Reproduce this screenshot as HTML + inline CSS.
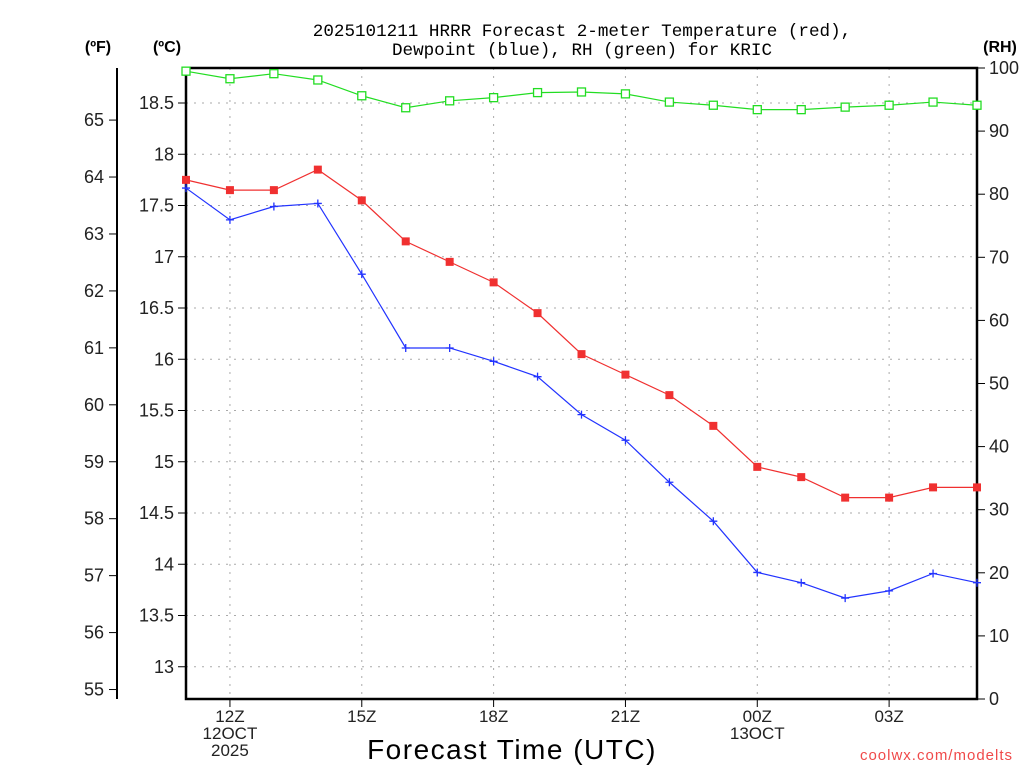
<!DOCTYPE html>
<html><head><meta charset="utf-8"><style>
html,body{margin:0;padding:0;background:#fff;}
svg{display:block;font-family:"Liberation Sans","DejaVu Sans",sans-serif;}
</style></head><body>
<svg id="chart" width="1024" height="768" viewBox="0 0 1024 768" xmlns="http://www.w3.org/2000/svg">
<text x="582" y="36" font-size="17.6" font-family="Liberation Mono, monospace" text-anchor="middle" fill="#000">2025101211 HRRR Forecast 2-meter Temperature (red),</text>
<text x="582" y="55" font-size="17.6" font-family="Liberation Mono, monospace" text-anchor="middle" fill="#000">Dewpoint (blue), RH (green) for KRIC</text>
<text x="98" y="52" font-size="16" font-weight="bold" text-anchor="middle">(ºF)</text>
<text x="167" y="52" font-size="16" font-weight="bold" text-anchor="middle">(ºC)</text>
<text x="1000" y="52" font-size="16" font-weight="bold" text-anchor="middle">(RH)</text>
<text x="512" y="759" font-size="28" text-anchor="middle" letter-spacing="1.5">Forecast Time (UTC)</text>
<text x="1013" y="760" font-size="15" text-anchor="end" fill="#f04a4a" letter-spacing="1">coolwx.com/modelts</text>
<g id="grid"></g><g id="axes"></g><g id="series"></g>
</svg>
<script>
const hours=[11,12,13,14,15,16,17,18,19,20,21,22,23,0,1,2,3,4,5];
const tempC=[17.75,17.65,17.65,17.85,17.55,17.15,16.95,16.75,16.45,16.05,15.85,15.65,15.35,14.95,14.85,14.65,14.65,14.75,14.75];
const dewC=[17.67,17.36,17.49,17.52,16.83,16.11,16.11,15.98,15.83,15.46,15.21,14.80,14.42,13.92,13.82,13.67,13.74,13.91,13.82];
const rh=[99.5,98.3,99.1,98.1,95.6,93.7,94.8,95.3,96.1,96.2,95.9,94.6,94.1,93.4,93.4,93.8,94.1,94.6,94.1];
const cTicks=[13,13.5,14,14.5,15,15.5,16,16.5,17,17.5,18,18.5];
const fTicks=[55,56,57,58,59,60,61,62,63,64,65];
const rhTicks=[0,10,20,30,40,50,60,70,80,90,100];
const xTickIdx=[1,4,7,10,13,16];
const xTickLabels=[["12Z","12OCT","2025"],["15Z"],["18Z"],["21Z"],["00Z","13OCT"],["03Z"]];
const L=186,R=977,T=68,B=699;
const NS="http://www.w3.org/2000/svg";
const xs=i=>L+(R-L)*i/(hours.length-1);
const yC=c=>103+(18.5-c)*102.5;
const yF=f=>yC((f-32)*5/9);
const yRH=v=>B-(B-T)*v/100;
function mk(parent,tag,attrs){const e=document.createElementNS(NS,tag);for(const k in attrs)e.setAttribute(k,attrs[k]);document.getElementById(parent).appendChild(e);return e;}
cTicks.forEach(c=>{const e=mk('grid','line',{x1:L,x2:R,y1:yC(c),y2:yC(c),stroke:'#aaa','stroke-dasharray':'2,6'});

});
xTickIdx.forEach(i=>{const e=mk('grid','line',{x1:xs(i),x2:xs(i),y1:T,y2:B,stroke:'#aaa','stroke-dasharray':'2,6'});

});
const fr=mk('axes','rect',{x:L,y:T,width:R-L,height:B-T,fill:'none',stroke:'#000','stroke-width':2.5});


const fl=mk('axes','line',{x1:117,x2:117,y1:T,y2:B,stroke:'#000','stroke-width':2});


cTicks.forEach(c=>{mk('axes','line',{x1:L-8,x2:L,y1:yC(c),y2:yC(c),stroke:'#000'});
const t=mk('axes','text',{x:L-12,y:yC(c)+6,'font-size':18,'text-anchor':'end',fill:'#222'});t.textContent=c;

});
fTicks.forEach(f=>{mk('axes','line',{x1:109,x2:117,y1:yF(f),y2:yF(f),stroke:'#000'});
const t=mk('axes','text',{x:104,y:yF(f)+6,'font-size':18,'text-anchor':'end',fill:'#222'});t.textContent=f;

});
rhTicks.forEach(v=>{mk('axes','line',{x1:R,x2:R+8,y1:yRH(v),y2:yRH(v),stroke:'#000'});
const t=mk('axes','text',{x:R+12,y:yRH(v)+6,'font-size':18,'text-anchor':'start',fill:'#222'});t.textContent=v;

});
xTickIdx.forEach((i,k)=>{mk('axes','line',{x1:xs(i),x2:xs(i),y1:B,y2:B+8,stroke:'#000'});
xTickLabels[k].forEach((s,j)=>{const t=mk('axes','text',{x:xs(i),y:B+23+j*17,'font-size':17,'text-anchor':'middle',fill:'#222'});t.textContent=s;

});});
function line(vals,yf,col,name){const p=mk('series','polyline',{points:vals.map((v,i)=>xs(i)+','+yf(v)).join(' '),fill:'none',stroke:col,'stroke-width':1.2});

}
line(rh,yRH,'#22dd22','rh-line');
line(tempC,yC,'#f03030','temperature-line');
line(dewC,yC,'#2233ff','dewpoint-line');
rh.forEach((v,i)=>{const e=mk('series','rect',{x:xs(i)-4,y:yRH(v)-4,width:8,height:8,fill:'#fff',stroke:'#22dd22','stroke-width':1.3});

});
tempC.forEach((v,i)=>{const e=mk('series','rect',{x:xs(i)-4,y:yC(v)-4,width:8,height:8,fill:'#f03030'});

});
dewC.forEach((v,i)=>{const e=mk('series','path',{d:`M${xs(i)-4},${yC(v)}h8M${xs(i)},${yC(v)-4}v8`,stroke:'#2233ff','stroke-width':1.3});

});
</script>
</body></html>
